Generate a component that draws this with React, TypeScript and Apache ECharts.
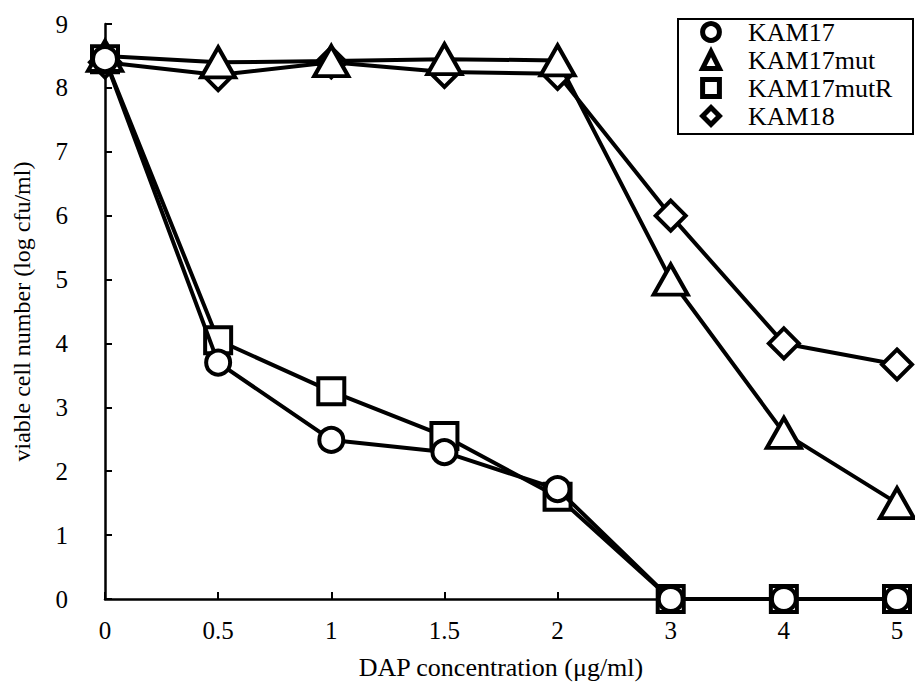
import React, { useEffect, useRef } from "react";
import * as echarts from "echarts";

const categories = ["0", "0.5", "1", "1.5", "2", "3", "4", "5"];
const kam17 = [8.45, 3.7, 2.49, 2.3, 1.72, 0, 0, 0];
const kam17mut = [8.5, 8.4, 8.42, 8.45, 8.43, 5.0, 2.6, 1.5];
const kam17mutR = [8.45, 4.05, 3.25, 2.55, 1.6, 0, 0, 0];
const kam18 = [8.4, 8.2, 8.4, 8.25, 8.22, 6.0, 4.0, 3.67];
const yTicks = [0, 1, 2, 3, 4, 5, 6, 7, 8, 9];

const FONT = "Liberation Serif, Times New Roman, serif";

export default function App() {
  const ref = useRef<HTMLDivElement>(null);
  useEffect(() => {
    if (!ref.current) return;
    const chart = echarts.init(ref.current, null, { renderer: "svg" });
    const mk = (name: string, data: number[], symbol: string, size: any, z: number) => ({
      name,
      type: "line",
      data,
      symbol,
      symbolSize: size,
      z,
      lineStyle: { color: "#000", width: 4 },
      itemStyle: { color: "#fff", borderColor: "#000", borderWidth: 4 },
      emphasis: { disabled: true },
    });
    chart.setOption({
      animation: false,
      backgroundColor: "#fff",
      textStyle: { fontFamily: FONT },
      grid: { left: 105, right: 18, top: 24, bottom: 88, containLabel: false },
      legend: {
        orient: "vertical",
        left: 678,
        top: 19,
        padding: 0,
        itemWidth: 64,
        itemHeight: 21,
        itemGap: 2,
        data: ["KAM17", "KAM17mut", "KAM17mutR", "KAM18"],
        textStyle: { fontFamily: FONT, fontSize: 26, color: "#000" },
        lineStyle: { opacity: 0 },
        itemStyle: { color: "#fff", borderColor: "#000", borderWidth: 5 },
        selectedMode: false,
      },
      graphic: [
        {
          type: "rect",
          shape: { x: 678, y: 19, width: 235, height: 115 },
          style: { fill: "none", stroke: "#000", lineWidth: 2 },
          silent: true,
          z: 100,
        },
      ],
      xAxis: {
        type: "category",
        data: categories,
        boundaryGap: false,
        name: "DAP concentration (μg/ml)",
        nameLocation: "middle",
        nameGap: 55,
        nameTextStyle: { fontFamily: FONT, fontSize: 26, color: "#000" },
        axisLine: { lineStyle: { color: "#000", width: 2.5 } },
        axisTick: { inside: true, length: 7, lineStyle: { color: "#000", width: 2 } },
        axisLabel: { fontFamily: FONT, fontSize: 25, color: "#000", margin: 19 },
        splitLine: { show: false },
      },
      yAxis: {
        type: "value",
        min: yTicks[0],
        max: yTicks[yTicks.length - 1],
        interval: 1,
        name: "viable cell number (log cfu/ml)",
        nameLocation: "middle",
        nameGap: 71,
        nameTextStyle: { fontFamily: FONT, fontSize: 24, color: "#000" },
        axisLine: { show: true, lineStyle: { color: "#000", width: 2.5 } },
        axisTick: { show: true, inside: true, length: 7, lineStyle: { color: "#000", width: 2 } },
        axisLabel: { fontFamily: FONT, fontSize: 25, color: "#000", margin: 37 },
        splitLine: { show: false },
      },
      series: [
        mk("KAM18", kam18, "diamond", [30, 30], 2),
        mk("KAM17mutR", kam17mutR, "rect", [26, 26], 3),
        mk("KAM17mut", kam17mut, "triangle", [34, 30], 4),
        mk("KAM17", kam17, "circle", [24, 24], 5),
      ],
    });
    return () => chart.dispose();
  }, []);
  return (
    <div
      ref={ref}
      style={{ position: "fixed", left: 0, top: 0, width: 915, height: 687, background: "#fff" }}
    />
  );
}
